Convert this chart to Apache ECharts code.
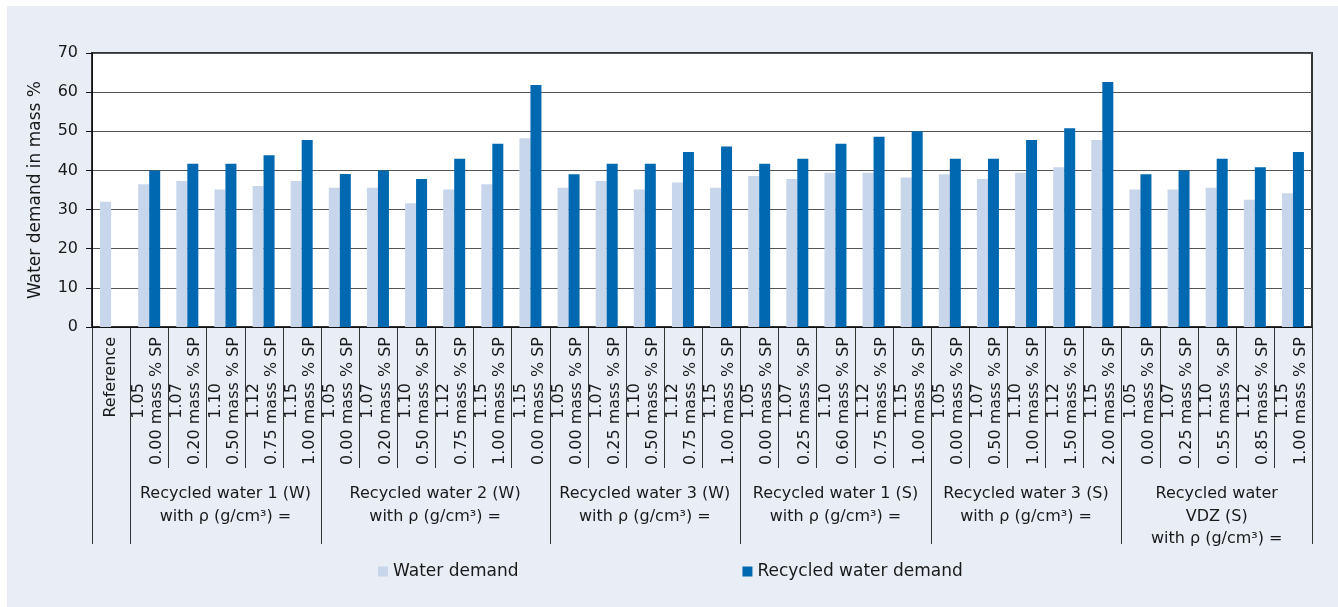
<!DOCTYPE html>
<html>
<head>
<meta charset="utf-8">
<script src="https://cdn.jsdelivr.net/npm/echarts@6/dist/echarts.min.js"></script>
<style>
  html, body { margin: 0; padding: 0; background: #fff; }
  #wrap { position: relative; width: 1338px; height: 607px; background: #fff; }
  #chart { position: absolute; left: 7px; top: 6px; width: 1331px; height: 601px; background: #e8edf6; }
</style>
</head>
<body>
<div id="wrap"><div id="chart"></div></div>
<script>
// densities (first label line) and SP dosages (second label line)
const densities = [
  '',
  '1.05', '1.07', '1.10', '1.12', '1.15',
  '1.05', '1.07', '1.10', '1.12', '1.15', '1.15',
  '1.05', '1.07', '1.10', '1.12', '1.15',
  '1.05', '1.07', '1.10', '1.12', '1.15',
  '1.05', '1.07', '1.10', '1.12', '1.15',
  '1.05', '1.07', '1.10', '1.12', '1.15'
];
const dosages = [
  'Reference',
  '0.00 mass % SP', '0.20 mass % SP', '0.50 mass % SP', '0.75 mass % SP', '1.00 mass % SP',
  '0.00 mass % SP', '0.20 mass % SP', '0.50 mass % SP', '0.75 mass % SP', '1.00 mass % SP', '0.00 mass % SP',
  '0.00 mass % SP', '0.25 mass % SP', '0.50 mass % SP', '0.75 mass % SP', '1.00 mass % SP',
  '0.00 mass % SP', '0.25 mass % SP', '0.60 mass % SP', '0.75 mass % SP', '1.00 mass % SP',
  '0.00 mass % SP', '0.50 mass % SP', '1.00 mass % SP', '1.50 mass % SP', '2.00 mass % SP',
  '0.00 mass % SP', '0.25 mass % SP', '0.55 mass % SP', '0.85 mass % SP', '1.00 mass % SP'
];

// groups below the category labels
const groupNames = [
  '',
  'Recycled water 1 (W)\nwith ρ (g/cm³) =',
  'Recycled water 2 (W)\nwith ρ (g/cm³) =',
  'Recycled water 3 (W)\nwith ρ (g/cm³) =',
  'Recycled water 1 (S)\nwith ρ (g/cm³) =',
  'Recycled water 3 (S)\nwith ρ (g/cm³) =',
  'Recycled water\nVDZ (S)\nwith ρ (g/cm³) ='
];
const groupSizes = [1, 5, 6, 5, 5, 5, 5];

const waterDemand = [
  32.0,
  36.5, 37.3, 35.1, 36.0, 37.3,
  35.6, 35.6, 31.6, 35.1, 36.5, 48.2,
  35.6, 37.3, 35.1, 36.9, 35.6,
  38.6, 37.8, 39.4, 39.4, 38.2,
  39.0, 37.8, 39.4, 40.8, 47.8,
  35.1, 35.1, 35.6, 32.5, 34.2
];
const recycledDemand = [
  null,
  40.0, 41.7, 41.7, 43.9, 47.8,
  39.1, 40.0, 37.8, 43.0, 46.8, 61.8,
  39.0, 41.7, 41.7, 44.7, 46.1,
  41.7, 43.0, 46.8, 48.6, 50.0,
  43.0, 43.0, 47.8, 50.8, 62.6,
  39.0, 40.0, 43.0, 40.8, 44.7
];

const FONT = 'DejaVu Sans';
const TEXT = '#1a1a1a';
const LINE = '#333';

const categories = dosages.map(function (d, i) { return densities[i] ? densities[i] + ' ' + d : d; });

const chart = echarts.init(document.getElementById('chart'));

chart.setOption({
  backgroundColor: 'transparent',
  animation: false,
  textStyle: { fontFamily: FONT, color: TEXT },
  legend: {
    left: 366,
    top: 552,
    icon: 'rect',
    itemWidth: 10,
    itemHeight: 10,
    itemGap: 224,
    textStyle: { fontSize: 17, color: TEXT, fontFamily: FONT },
    data: ['Water demand', 'Recycled water demand']
  },
  grid: {
    left: 85,
    right: 26,
    top: 47,
    bottom: 280,
    show: true,
    borderColor: LINE,
    borderWidth: 2,
    backgroundColor: '#fff'
  },
  xAxis: {
    type: 'category',
    data: categories,
    axisLine: { lineStyle: { color: '#111', width: 1 } },
    axisTick: { show: false },
    axisLabel: { show: false }
  },
  yAxis: {
    type: 'value',
    min: 0,
    max: 70,
    interval: 10,
    name: 'Water demand in mass %',
    nameLocation: 'middle',
    nameGap: 48,
    nameTextStyle: { fontSize: 17, color: TEXT, fontFamily: FONT },
    axisLine: { show: true, lineStyle: { color: '#111' } },
    axisTick: { show: true, length: 6, lineStyle: { color: '#111' } },
    axisLabel: { margin: 14, fontSize: 16, color: TEXT },
    splitLine: { lineStyle: { color: '#555', width: 1 } }
  },
  series: [
    {
      name: 'Water demand',
      type: 'bar',
      data: waterDemand,
      barWidth: 11,
      barGap: '0%',
      itemStyle: { color: '#c7d6eb' }
    },
    {
      name: 'Recycled water demand',
      type: 'bar',
      data: recycledDemand,
      barWidth: 11,
      itemStyle: { color: '#0068b1' }
    }
  ]
});

// category labels, separators and group labels placed from the category scale
function drawLabels() {
  const ctx = document.createElement('canvas').getContext('2d');
  ctx.font = '16px "' + FONT + '"';
  const px = function (i) { return chart.convertToPixel({ xAxisIndex: 0 }, i); };
  const half = (px(1) - px(0)) / 2;
  const yBase = chart.convertToPixel({ yAxisIndex: 0 }, 0);
  const labelTop = yBase + 10;
  const elements = [];

  const font = { fontSize: 16, fontFamily: FONT, fill: TEXT };
  categories.forEach(function (c, i) {
    const cx = px(i);
    if (!densities[i]) {
      elements.push({
        type: 'text', x: cx, y: labelTop, rotation: Math.PI / 2, silent: true,
        style: Object.assign({ text: dosages[i], align: 'right', verticalAlign: 'middle' }, font)
      });
      return;
    }
    const w = ctx.measureText(dosages[i]).width;
    elements.push({
      type: 'text', x: cx + 8, y: labelTop, rotation: Math.PI / 2, silent: true,
      style: Object.assign({ text: dosages[i], align: 'right', verticalAlign: 'middle' }, font)
    });
    elements.push({
      type: 'text', x: cx - 10, y: labelTop + w / 2, rotation: Math.PI / 2, silent: true,
      style: Object.assign({ text: densities[i], align: 'center', verticalAlign: 'middle' }, font)
    });
  });

  // boundaries between categories and between groups
  const groupBounds = [0];
  groupSizes.forEach(function (n) { groupBounds.push(groupBounds[groupBounds.length - 1] + n); });
  for (let b = 0; b <= categories.length; b++) {
    const x = Math.round(b < categories.length ? px(b) - half : px(b - 1) + half) + 0.5;
    const len = groupBounds.indexOf(b) >= 0 ? 217 : 141;
    elements.push({
      type: 'line', silent: true,
      shape: { x1: x, y1: yBase, x2: x, y2: yBase + len },
      style: { stroke: LINE, lineWidth: 1 }
    });
  }

  groupNames.forEach(function (name, g) {
    if (!name) return;
    const xc = (px(groupBounds[g]) + px(groupBounds[g + 1] - 1)) / 2;
    elements.push({
      type: 'text', x: xc, y: yBase + 156, silent: true,
      style: {
        text: name, align: 'center', verticalAlign: 'top',
        fontSize: 16, fontFamily: FONT, lineHeight: 22.5, fill: TEXT
      }
    });
  });
  chart.setOption({ graphic: elements });
}
drawLabels();
</script>
</body>
</html>
